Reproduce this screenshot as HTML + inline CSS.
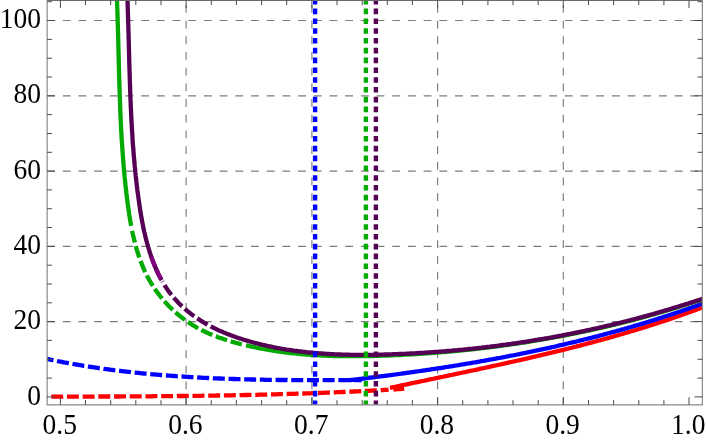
<!DOCTYPE html>
<html><head><meta charset="utf-8"><title>Plot</title>
<style>html,body{margin:0;padding:0;background:#fff;overflow:hidden}body{width:706px;height:443px;font-family:"Liberation Serif",serif}svg{display:block}</style></head>
<body>
<svg width="706" height="443" viewBox="0 0 706 443">
<rect width="706" height="443" fill="#fff"/>
<g stroke="#7c7c7c" stroke-width="1.15" stroke-dasharray="7.8 7.89" fill="none">
<path d="M47.1,321.6 H702.4"/>
<path d="M47.1,246.4 H702.4"/>
<path d="M47.1,171.1 H702.4"/>
<path d="M47.1,95.8 H702.4"/>
<path d="M47.1,20.5 H702.4"/>
<path d="M186.1,405.0 V0.4"/>
<path d="M311.9,405.0 V0.4"/>
<path d="M437.6,405.0 V0.4"/>
<path d="M563.3,405.0 V0.4"/>
</g>
<clipPath id="c"><rect x="47.15" y="0.4" width="655.2" height="404.45000000000005"/></clipPath>
<g clip-path="url(#c)" fill="none" stroke-width="4.3" stroke-linejoin="round">
<path d="M45.0,396.7 L46.2,396.7 L47.4,396.7 L48.6,396.7 L49.8,396.7 L51.0,396.7 L52.2,396.7 L53.4,396.7 L54.6,396.7 L55.8,396.7 L57.0,396.7 L58.2,396.7 L59.4,396.7 L60.6,396.7 L61.8,396.7 L63.0,396.7 L64.2,396.6 L65.4,396.6 L66.6,396.6 L67.8,396.6 L69.0,396.6 L70.2,396.6 L71.4,396.6 L72.6,396.6 L73.8,396.6 L75.0,396.6 L76.2,396.6 L77.4,396.6 L78.6,396.6 L79.8,396.6 L81.1,396.6 L82.3,396.6 L83.5,396.6 L84.7,396.6 L85.9,396.6 L87.1,396.6 L88.3,396.6 L89.5,396.6 L90.7,396.6 L91.9,396.6 L93.1,396.6 L94.3,396.6 L95.5,396.6 L96.7,396.5 L97.9,396.5 L99.1,396.5 L100.3,396.5 L101.5,396.5 L102.7,396.5 L103.9,396.5 L105.1,396.5 L106.3,396.5 L107.5,396.5 L108.7,396.5 L109.9,396.5 L111.1,396.5 L112.3,396.5 L113.5,396.5 L114.7,396.5 L115.9,396.5 L117.1,396.5 L118.3,396.5 L119.5,396.5 L120.7,396.4 L121.9,396.4 L123.1,396.4 L124.3,396.4 L125.5,396.4 L126.7,396.4 L127.9,396.4 L129.1,396.4 L130.3,396.4 L131.5,396.4 L132.7,396.4 L133.9,396.4 L135.1,396.4 L136.3,396.4 L137.5,396.4 L138.7,396.3 L139.9,396.3 L141.1,396.3 L142.3,396.3 L143.5,396.3 L144.7,396.3 L146.0,396.3 L147.2,396.3 L148.4,396.3 L149.6,396.3 L150.8,396.3 L152.0,396.3 L153.2,396.2 L154.4,396.2 L155.6,396.2 L156.8,396.2 L158.0,396.2 L159.2,396.2 L160.4,396.2 L161.6,396.2 L162.8,396.2 L164.0,396.2 L165.2,396.2 L166.4,396.1 L167.6,396.1 L168.8,396.1 L170.0,396.1 L171.2,396.1 L172.4,396.1 L173.6,396.1 L174.8,396.1 L176.0,396.1 L177.2,396.0 L178.4,396.0 L179.6,396.0 L180.8,396.0 L182.0,396.0 L183.2,396.0 L184.4,396.0 L185.6,395.9 L186.8,395.9 L188.0,395.9 L189.2,395.9 L190.4,395.9 L191.6,395.9 L192.8,395.9 L194.0,395.9 L195.2,395.8 L196.4,395.8 L197.6,395.8 L198.8,395.8 L200.0,395.8 L201.2,395.8 L202.4,395.7 L203.6,395.7 L204.8,395.7 L206.0,395.7 L207.2,395.7 L208.4,395.7 L209.6,395.6 L210.8,395.6 L212.1,395.6 L213.3,395.6 L214.5,395.6 L215.7,395.6 L216.9,395.5 L218.1,395.5 L219.3,395.5 L220.5,395.5 L221.7,395.5 L222.9,395.4 L224.1,395.4 L225.3,395.4 L226.5,395.4 L227.7,395.4 L228.9,395.3 L230.1,395.3 L231.3,395.3 L232.5,395.3 L233.7,395.2 L234.9,395.2 L236.1,395.2 L237.3,395.2 L238.5,395.2 L239.7,395.1 L240.9,395.1 L242.1,395.1 L243.3,395.1 L244.5,395.0 L245.7,395.0 L246.9,395.0 L248.1,395.0 L249.3,394.9 L250.5,394.9 L251.7,394.9 L252.9,394.9 L254.1,394.8 L255.3,394.8 L256.5,394.8 L257.7,394.8 L258.9,394.7 L260.1,394.7 L261.3,394.7 L262.5,394.6 L263.7,394.6 L264.9,394.6 L266.1,394.6 L267.3,394.5 L268.5,394.5 L269.7,394.5 L270.9,394.4 L272.1,394.4 L273.3,394.4 L274.5,394.3 L275.7,394.3 L276.9,394.3 L278.1,394.2 L279.3,394.2 L280.5,394.2 L281.7,394.1 L282.9,394.1 L284.1,394.1 L285.3,394.0 L286.5,394.0 L287.7,394.0 L288.9,393.9 L290.1,393.9 L291.3,393.9 L292.6,393.8 L293.8,393.8 L295.0,393.8 L296.2,393.7 L297.4,393.7 L298.6,393.6 L299.8,393.6 L301.0,393.6 L302.2,393.5 L303.4,393.5 L304.6,393.5 L305.8,393.4 L307.0,393.4 L308.2,393.3 L309.4,393.3 L310.6,393.3 L311.8,393.2 L313.0,393.2 L314.2,393.1 L315.4,393.1 L316.6,393.0 L317.8,393.0 L319.0,393.0 L320.2,392.9 L321.4,392.9 L322.6,392.8 L323.8,392.8 L325.0,392.7 L326.2,392.7 L327.4,392.6 L328.6,392.6 L329.8,392.5 L331.0,392.5 L332.2,392.4 L333.4,392.4 L334.6,392.3 L335.8,392.3 L337.0,392.2 L338.2,392.2 L339.4,392.1 L340.6,392.1 L341.8,392.0 L343.0,392.0 L344.2,391.9 L345.4,391.9 L346.6,391.8 L347.8,391.8 L349.0,391.7 L350.2,391.7 L351.4,391.6 L352.6,391.6 L353.8,391.5 L355.0,391.5 L356.2,391.4 L357.4,391.3 L358.6,391.3 L359.8,391.2 L361.0,391.2 L362.2,391.1 L363.4,391.1 L364.6,391.0 L365.8,390.9 L367.0,390.9 L368.2,390.8 L369.4,390.8 L370.6,390.7 L371.8,390.6 L373.0,390.6 L374.2,390.5 L375.4,390.4 L376.6,390.4 L377.8,390.3 L379.0,390.3 L380.2,390.2 L381.4,390.1 L382.6,390.1 L383.8,390.0 L385.0,389.9 L386.2,389.9 L387.4,389.8 L388.6,389.7" stroke="#ff0000" stroke-dasharray="11.95 3.75" stroke-dashoffset="9.45"/>
<path d="M393.4,389.4 L394.6,389.4 L395.8,389.3 L397.0,389.2 L398.2,389.2 L399.4,389.1 L400.6,389.0 L401.8,388.9 L403.0,388.9 L404.2,388.8" stroke="#ff0000"/>
<path d="M390.0,387.9 L391.1,387.7 L392.1,387.4 L393.2,387.2 L394.2,387.0 L395.3,386.8 L396.3,386.5 L397.4,386.3 L398.4,386.1 L399.5,385.9 L400.6,385.6 L401.6,385.4 L402.7,385.2 L403.7,385.0 L404.8,384.8 L405.8,384.5 L406.9,384.3 L408.0,384.1 L409.0,383.9 L410.1,383.6 L411.1,383.4 L412.2,383.2 L413.2,383.0 L414.3,382.7 L415.3,382.5 L416.4,382.3 L417.5,382.1 L418.5,381.9 L419.6,381.6 L420.6,381.4 L421.7,381.2 L422.7,381.0 L423.8,380.8 L424.9,380.5 L425.9,380.3 L427.0,380.1 L428.0,379.9 L429.1,379.6 L430.1,379.4 L431.2,379.2 L432.3,379.0 L433.3,378.8 L434.4,378.5 L435.4,378.3 L436.5,378.1 L437.5,377.9 L438.6,377.6 L439.7,377.4 L440.7,377.2 L441.8,377.0 L442.8,376.8 L443.9,376.5 L444.9,376.3 L446.0,376.1 L447.1,375.9 L448.1,375.6 L449.2,375.4 L450.2,375.2 L451.3,375.0 L452.3,374.8 L453.4,374.5 L454.5,374.3 L455.5,374.1 L456.6,373.9 L457.6,373.6 L458.7,373.4 L459.7,373.2 L460.8,373.0 L461.9,372.7 L462.9,372.5 L464.0,372.3 L465.0,372.1 L466.1,371.8 L467.1,371.6 L468.2,371.4 L469.3,371.2 L470.3,370.9 L471.4,370.7 L472.4,370.5 L473.5,370.3 L474.5,370.0 L475.6,369.8 L476.6,369.6 L477.7,369.4 L478.8,369.1 L479.8,368.9 L480.9,368.7 L481.9,368.5 L483.0,368.2 L484.0,368.0 L485.1,367.8 L486.2,367.5 L487.2,367.3 L488.3,367.1 L489.3,366.9 L490.4,366.6 L491.4,366.4 L492.5,366.2 L493.5,365.9 L494.6,365.7 L495.7,365.5 L496.7,365.2 L497.8,365.0 L498.8,364.8 L499.9,364.5 L500.9,364.3 L502.0,364.1 L503.0,363.8 L504.1,363.6 L505.1,363.4 L506.2,363.1 L507.3,362.9 L508.3,362.7 L509.4,362.4 L510.4,362.2 L511.5,362.0 L512.5,361.7 L513.6,361.5 L514.6,361.3 L515.7,361.0 L516.7,360.8 L517.8,360.5 L518.8,360.3 L519.9,360.1 L521.0,359.8 L522.0,359.6 L523.1,359.3 L524.1,359.1 L525.2,358.9 L526.2,358.6 L527.3,358.4 L528.3,358.1 L529.4,357.9 L530.4,357.6 L531.5,357.4 L532.5,357.2 L533.6,356.9 L534.6,356.7 L535.7,356.4 L536.7,356.2 L537.8,355.9 L538.8,355.7 L539.9,355.4 L540.9,355.2 L542.0,354.9 L543.0,354.7 L544.1,354.4 L545.1,354.2 L546.2,353.9 L547.2,353.7 L548.3,353.4 L549.3,353.2 L550.4,352.9 L551.4,352.7 L552.5,352.4 L553.5,352.2 L554.6,351.9 L555.6,351.7 L556.7,351.4 L557.7,351.2 L558.8,350.9 L559.8,350.6 L560.9,350.4 L561.9,350.1 L563.0,349.9 L564.0,349.6 L565.1,349.3 L566.1,349.1 L567.2,348.8 L568.2,348.6 L569.3,348.3 L570.3,348.0 L571.4,347.8 L572.4,347.5 L573.5,347.2 L574.5,347.0 L575.5,346.7 L576.6,346.4 L577.6,346.2 L578.7,345.9 L579.7,345.6 L580.8,345.4 L581.8,345.1 L582.9,344.8 L583.9,344.5 L585.0,344.3 L586.0,344.0 L587.0,343.7 L588.1,343.4 L589.1,343.2 L590.2,342.9 L591.2,342.6 L592.3,342.3 L593.3,342.1 L594.3,341.8 L595.4,341.5 L596.4,341.2 L597.5,340.9 L598.5,340.7 L599.5,340.4 L600.6,340.1 L601.6,339.8 L602.7,339.5 L603.7,339.2 L604.8,338.9 L605.8,338.7 L606.8,338.4 L607.9,338.1 L608.9,337.8 L610.0,337.5 L611.0,337.2 L612.0,336.9 L613.1,336.6 L614.1,336.3 L615.1,336.0 L616.2,335.7 L617.2,335.4 L618.3,335.1 L619.3,334.8 L620.3,334.5 L621.4,334.2 L622.4,333.9 L623.4,333.6 L624.5,333.3 L625.5,333.0 L626.5,332.7 L627.6,332.4 L628.6,332.1 L629.7,331.8 L630.7,331.5 L631.7,331.2 L632.8,330.9 L633.8,330.6 L634.8,330.3 L635.9,329.9 L636.9,329.6 L637.9,329.3 L639.0,329.0 L640.0,328.7 L641.0,328.4 L642.1,328.0 L643.1,327.7 L644.1,327.4 L645.1,327.1 L646.2,326.8 L647.2,326.4 L648.2,326.1 L649.3,325.8 L650.3,325.5 L651.3,325.1 L652.4,324.8 L653.4,324.5 L654.4,324.1 L655.4,323.8 L656.5,323.5 L657.5,323.1 L658.5,322.8 L659.5,322.5 L660.6,322.1 L661.6,321.8 L662.6,321.5 L663.7,321.1 L664.7,320.8 L665.7,320.4 L666.7,320.1 L667.8,319.8 L668.8,319.4 L669.8,319.1 L670.8,318.7 L671.8,318.4 L672.9,318.0 L673.9,317.7 L674.9,317.3 L675.9,317.0 L677.0,316.6 L678.0,316.3 L679.0,315.9 L680.0,315.5 L681.0,315.2 L682.1,314.8 L683.1,314.5 L684.1,314.1 L685.1,313.7 L686.1,313.4 L687.2,313.0 L688.2,312.6 L689.2,312.3 L690.2,311.9 L691.2,311.5 L692.2,311.2 L693.3,310.8 L694.3,310.4 L695.3,310.1 L696.3,309.7 L697.3,309.3 L698.3,308.9 L699.4,308.5 L700.4,308.2 L701.4,307.8 L702.4,307.4" stroke="#ff0000"/>
<path d="M45.0,358.5 L46.0,358.7 L47.1,359.0 L48.1,359.2 L49.2,359.4 L50.2,359.6 L51.3,359.8 L52.3,360.0 L53.3,360.3 L54.4,360.5 L55.4,360.7 L56.5,360.9 L57.5,361.1 L58.6,361.3 L59.6,361.5 L60.7,361.7 L61.7,361.9 L62.7,362.1 L63.8,362.3 L64.8,362.5 L65.9,362.7 L66.9,362.9 L68.0,363.1 L69.0,363.3 L70.1,363.4 L71.1,363.6 L72.2,363.8 L73.2,364.0 L74.3,364.2 L75.3,364.4 L76.4,364.5 L77.4,364.7 L78.5,364.9 L79.5,365.1 L80.5,365.2 L81.6,365.4 L82.6,365.6 L83.7,365.8 L84.7,365.9 L85.8,366.1 L86.8,366.3 L87.9,366.4 L88.9,366.6 L90.0,366.8 L91.0,366.9 L92.1,367.1 L93.2,367.2 L94.2,367.4 L95.3,367.6 L96.3,367.7 L97.4,367.9 L98.4,368.0 L99.5,368.2 L100.5,368.3 L101.6,368.5 L102.6,368.6 L103.7,368.8 L104.7,368.9 L105.8,369.1 L106.8,369.2 L107.9,369.3 L108.9,369.5 L110.0,369.6 L111.0,369.8 L112.1,369.9 L113.2,370.0 L114.2,370.2 L115.3,370.3 L116.3,370.4 L117.4,370.6 L118.4,370.7 L119.5,370.8 L120.5,370.9 L121.6,371.1 L122.6,371.2 L123.7,371.3 L124.8,371.4 L125.8,371.6 L126.9,371.7 L127.9,371.8 L129.0,371.9 L130.0,372.0 L131.1,372.2 L132.1,372.3 L133.2,372.4 L134.3,372.5 L135.3,372.6 L136.4,372.7 L137.4,372.8 L138.5,372.9 L139.5,373.0 L140.6,373.2 L141.7,373.3 L142.7,373.4 L143.8,373.5 L144.8,373.6 L145.9,373.7 L147.0,373.8 L148.0,373.9 L149.1,374.0 L150.1,374.1 L151.2,374.2 L152.2,374.3 L153.3,374.4 L154.4,374.4 L155.4,374.5 L156.5,374.6 L157.5,374.7 L158.6,374.8 L159.7,374.9 L160.7,375.0 L161.8,375.1 L162.8,375.2 L163.9,375.2 L165.0,375.3 L166.0,375.4 L167.1,375.5 L168.1,375.6 L169.2,375.6 L170.3,375.7 L171.3,375.8 L172.4,375.9 L173.4,376.0 L174.5,376.0 L175.6,376.1 L176.6,376.2 L177.7,376.3 L178.8,376.3 L179.8,376.4 L180.9,376.5 L181.9,376.5 L183.0,376.6 L184.1,376.7 L185.1,376.7 L186.2,376.8 L187.2,376.9 L188.3,376.9 L189.4,377.0 L190.4,377.1 L191.5,377.1 L192.6,377.2 L193.6,377.3 L194.7,377.3 L195.7,377.4 L196.8,377.4 L197.9,377.5 L198.9,377.5 L200.0,377.6 L201.1,377.7 L202.1,377.7 L203.2,377.8 L204.2,377.8 L205.3,377.9 L206.4,377.9 L207.4,378.0 L208.5,378.0 L209.6,378.1 L210.6,378.1 L211.7,378.2 L212.8,378.2 L213.8,378.3 L214.9,378.3 L215.9,378.3 L217.0,378.4 L218.1,378.4 L219.1,378.5 L220.2,378.5 L221.3,378.6 L222.3,378.6 L223.4,378.6 L224.5,378.7 L225.5,378.7 L226.6,378.8 L227.6,378.8 L228.7,378.8 L229.8,378.9 L230.8,378.9 L231.9,378.9 L233.0,379.0 L234.0,379.0 L235.1,379.0 L236.2,379.1 L237.2,379.1 L238.3,379.1 L239.4,379.2 L240.4,379.2 L241.5,379.2 L242.5,379.3 L243.6,379.3 L244.7,379.3 L245.7,379.3 L246.8,379.4 L247.9,379.4 L248.9,379.4 L250.0,379.4 L251.1,379.5 L252.1,379.5 L253.2,379.5 L254.3,379.5 L255.3,379.6 L256.4,379.6 L257.5,379.6 L258.5,379.6 L259.6,379.7 L260.6,379.7 L261.7,379.7 L262.8,379.7 L263.8,379.7 L264.9,379.8 L266.0,379.8 L267.0,379.8 L268.1,379.8 L269.2,379.8 L270.2,379.8 L271.3,379.9 L272.4,379.9 L273.4,379.9 L274.5,379.9 L275.6,379.9 L276.6,379.9 L277.7,379.9 L278.8,380.0 L279.8,380.0 L280.9,380.0 L281.9,380.0 L283.0,380.0 L284.1,380.0 L285.1,380.0 L286.2,380.0 L287.3,380.0 L288.3,380.1 L289.4,380.1 L290.5,380.1 L291.5,380.1 L292.6,380.1 L293.7,380.1 L294.7,380.1 L295.8,380.1 L296.9,380.1 L297.9,380.1 L299.0,380.1 L300.0,380.1 L301.1,380.2 L302.2,380.2 L303.2,380.2 L304.3,380.2 L305.4,380.2 L306.4,380.2 L307.5,380.2 L308.6,380.2 L309.6,380.2 L310.7,380.2 L311.8,380.2 L312.8,380.2 L313.9,380.2 L314.9,380.2 L316.0,380.2 L317.1,380.2 L318.1,380.2 L319.2,380.2 L320.3,380.2 L321.3,380.2 L322.4,380.2 L323.5,380.2 L324.5,380.2 L325.6,380.2 L326.6,380.2 L327.7,380.2 L328.8,380.2 L329.8,380.2 L330.9,380.2 L332.0,380.2 L333.0,380.2 L334.1,380.2 L335.1,380.2 L336.2,380.2 L337.3,380.2 L338.3,380.2 L339.4,380.2 L340.5,380.2 L341.5,380.2 L342.6,380.2 L343.6,380.2 L344.7,380.2 L345.8,380.2 L346.8,380.2 L347.9,380.2 L349.0,380.2 L350.0,380.2 L351.1,380.2 L352.1,380.2 L353.2,380.2 L354.3,380.2 L355.3,380.2 L356.4,380.2 L357.5,380.2 L358.5,380.2 L359.6,380.2 L360.6,380.2 L361.7,380.2" stroke="#0000ff" stroke-dasharray="12 3.7" stroke-dashoffset="3.39"/>
<path d="M349.5,380.2 L350.7,380.0 L351.9,379.9 L353.1,379.8 L354.3,379.6 L355.5,379.5 L356.7,379.3 L357.9,379.2 L359.1,379.1 L360.3,378.9 L361.5,378.8 L362.7,378.6 L363.9,378.5 L365.1,378.3 L366.3,378.2 L367.5,378.0 L368.7,377.9 L369.9,377.7 L371.1,377.6 L372.3,377.4 L373.5,377.3 L374.7,377.1 L375.9,377.0 L377.1,376.8 L378.3,376.7 L379.5,376.5 L380.7,376.4 L381.9,376.2 L383.1,376.1 L384.3,375.9 L385.5,375.8 L386.7,375.6 L387.9,375.4 L389.1,375.3 L390.3,375.1 L391.5,375.0 L392.7,374.8 L393.9,374.7 L395.1,374.5 L396.3,374.3 L397.5,374.2 L398.7,374.0 L399.9,373.8 L401.1,373.7 L402.3,373.5 L403.5,373.4 L404.7,373.2 L405.9,373.0 L407.1,372.9 L408.3,372.7 L409.5,372.5 L410.7,372.4 L411.9,372.2 L413.1,372.0 L414.3,371.9 L415.5,371.7 L416.7,371.5 L417.9,371.3 L419.1,371.2 L420.3,371.0 L421.5,370.8 L422.7,370.6 L423.9,370.5 L425.1,370.3 L426.3,370.1 L427.5,369.9 L428.7,369.8 L429.9,369.6 L431.1,369.4 L432.3,369.2 L433.5,369.0 L434.7,368.9 L435.9,368.7 L437.1,368.5 L438.3,368.3 L439.5,368.1 L440.7,368.0 L441.9,367.8 L443.1,367.6 L444.3,367.4 L445.5,367.2 L446.7,367.0 L447.9,366.8 L449.1,366.6 L450.3,366.4 L451.4,366.3 L452.6,366.1 L453.8,365.9 L455.0,365.7 L456.2,365.5 L457.4,365.3 L458.6,365.1 L459.8,364.9 L461.0,364.7 L462.2,364.5 L463.4,364.3 L464.6,364.1 L465.8,363.9 L467.0,363.7 L468.2,363.5 L469.4,363.3 L470.6,363.1 L471.8,362.9 L472.9,362.7 L474.1,362.5 L475.3,362.3 L476.5,362.1 L477.7,361.9 L478.9,361.7 L480.1,361.5 L481.3,361.2 L482.5,361.0 L483.7,360.8 L484.9,360.6 L486.1,360.4 L487.3,360.2 L488.4,360.0 L489.6,359.7 L490.8,359.5 L492.0,359.3 L493.2,359.1 L494.4,358.9 L495.6,358.7 L496.8,358.4 L498.0,358.2 L499.2,358.0 L500.3,357.8 L501.5,357.5 L502.7,357.3 L503.9,357.1 L505.1,356.9 L506.3,356.6 L507.5,356.4 L508.7,356.2 L509.9,355.9 L511.0,355.7 L512.2,355.5 L513.4,355.3 L514.6,355.0 L515.8,354.8 L517.0,354.5 L518.2,354.3 L519.4,354.1 L520.5,353.8 L521.7,353.6 L522.9,353.4 L524.1,353.1 L525.3,352.9 L526.5,352.6 L527.7,352.4 L528.8,352.1 L530.0,351.9 L531.2,351.7 L532.4,351.4 L533.6,351.2 L534.8,350.9 L535.9,350.7 L537.1,350.4 L538.3,350.2 L539.5,349.9 L540.7,349.6 L541.9,349.4 L543.0,349.1 L544.2,348.9 L545.4,348.6 L546.6,348.4 L547.8,348.1 L549.0,347.8 L550.1,347.6 L551.3,347.3 L552.5,347.0 L553.7,346.8 L554.9,346.5 L556.0,346.3 L557.2,346.0 L558.4,345.7 L559.6,345.4 L560.8,345.2 L561.9,344.9 L563.1,344.6 L564.3,344.4 L565.5,344.1 L566.6,343.8 L567.8,343.5 L569.0,343.2 L570.2,343.0 L571.4,342.7 L572.5,342.4 L573.7,342.1 L574.9,341.8 L576.1,341.6 L577.2,341.3 L578.4,341.0 L579.6,340.7 L580.8,340.4 L581.9,340.1 L583.1,339.8 L584.3,339.5 L585.5,339.2 L586.6,339.0 L587.8,338.7 L589.0,338.4 L590.1,338.1 L591.3,337.8 L592.5,337.5 L593.7,337.2 L594.8,336.9 L596.0,336.6 L597.2,336.3 L598.3,336.0 L599.5,335.6 L600.7,335.3 L601.9,335.0 L603.0,334.7 L604.2,334.4 L605.4,334.1 L606.5,333.8 L607.7,333.5 L608.9,333.2 L610.0,332.8 L611.2,332.5 L612.4,332.2 L613.5,331.9 L614.7,331.6 L615.9,331.2 L617.0,330.9 L618.2,330.6 L619.4,330.3 L620.5,329.9 L621.7,329.6 L622.9,329.3 L624.0,329.0 L625.2,328.6 L626.4,328.3 L627.5,328.0 L628.7,327.6 L629.8,327.3 L631.0,327.0 L632.2,326.6 L633.3,326.3 L634.5,325.9 L635.7,325.6 L636.8,325.3 L638.0,324.9 L639.1,324.6 L640.3,324.2 L641.5,323.9 L642.6,323.5 L643.8,323.2 L644.9,322.8 L646.1,322.5 L647.2,322.1 L648.4,321.8 L649.6,321.4 L650.7,321.0 L651.9,320.7 L653.0,320.3 L654.2,320.0 L655.3,319.6 L656.5,319.2 L657.6,318.9 L658.8,318.5 L660.0,318.1 L661.1,317.8 L662.3,317.4 L663.4,317.0 L664.6,316.6 L665.7,316.3 L666.9,315.9 L668.0,315.5 L669.2,315.1 L670.3,314.8 L671.5,314.4 L672.6,314.0 L673.8,313.6 L674.9,313.2 L676.1,312.8 L677.2,312.5 L678.4,312.1 L679.5,311.7 L680.7,311.3 L681.8,310.9 L683.0,310.5 L684.1,310.1 L685.3,309.7 L686.4,309.3 L687.5,308.9 L688.7,308.5 L689.8,308.1 L691.0,307.7 L692.1,307.3 L693.3,306.9 L694.4,306.5 L695.6,306.1 L696.7,305.7 L697.8,305.3 L699.0,304.8 L700.1,304.4 L701.3,304.0 L702.4,303.6" stroke="#0000ff"/>
<path d="M117.0,0.5 L117.1,2.0 L117.1,3.4 L117.2,4.9 L117.2,6.4 L117.3,7.8 L117.3,9.3 L117.4,10.8 L117.4,12.2 L117.5,13.7 L117.5,15.1 L117.6,16.6 L117.6,18.1 L117.6,19.5 L117.7,21.0 L117.7,22.4 L117.8,23.9 L117.8,25.3 L117.9,26.8 L117.9,28.2 L117.9,29.7 L118.0,31.2 L118.0,32.6 L118.1,34.1 L118.1,35.5 L118.1,37.0 L118.2,38.4 L118.2,39.9 L118.3,41.3 L118.3,42.7 L118.3,44.2 L118.4,45.6 L118.4,47.1 L118.4,48.5 L118.5,50.0 L118.5,51.4 L118.6,52.9 L118.6,54.3 L118.6,55.8 L118.7,57.2 L118.7,58.6 L118.7,60.1 L118.8,61.5 L118.8,63.0 L118.8,64.4 L118.9,65.8 L118.9,67.3 L119.0,68.7 L119.0,70.2 L119.0,71.6 L119.1,73.0 L119.1,74.5 L119.1,75.9 L119.2,77.3 L119.2,78.8 L119.3,80.2 L119.3,81.7 L119.3,83.1 L119.4,84.5 L119.4,86.0 L119.5,87.4 L119.5,88.8 L119.6,90.3 L119.6,91.7 L119.7,93.1 L119.7,94.6 L119.8,96.0 L119.8,97.4 L119.9,98.9 L119.9,100.3 L120.0,101.7 L120.0,103.2 L120.1,104.6 L120.1,106.1 L120.2,107.5 L120.2,108.9 L120.3,110.4 L120.3,111.8 L120.4,113.2 L120.5,114.7 L120.5,116.1 L120.6,117.5 L120.7,119.0 L120.7,120.4 L120.8,121.8 L120.9,123.3 L120.9,124.7 L121.0,126.1 L121.1,127.6 L121.1,129.0 L121.2,130.4 L121.3,131.9 L121.4,133.3 L121.5,134.7 L121.5,136.2 L121.6,137.6 L121.7,139.1 L121.8,140.5 L121.9,141.9 L122.0,143.4 L122.1,144.8 L122.2,146.2 L122.3,147.7 L122.4,149.1 L122.5,150.6 L122.6,152.0 L122.7,153.4 L122.8,154.9 L122.9,156.3 L123.0,157.7 L123.1,159.2 L123.2,160.6 L123.3,162.1 L123.5,163.5 L123.6,165.0 L123.7,166.4 L123.8,167.8 L123.9,169.3 L124.1,170.7 L124.2,172.2 L124.3,173.6 L124.5,175.1 L124.6,176.5 L124.8,178.0 L124.9,179.4 L125.1,180.9 L125.2,182.3 L125.4,183.8 L125.5,185.2 L125.7,186.7 L125.8,188.1 L126.0,189.6 L126.2,191.0 L126.3,192.5 L126.5,193.9 L126.7,195.4 L126.8,196.8 L127.0,198.3 L127.2,199.7 L127.4,201.2 L127.6,202.7 L127.8,204.1 L128.0,205.6 L128.2,207.0 L128.4,208.5 L128.6,209.9 L128.8,211.4 L129.0,212.9 L129.2,214.3 L129.5,215.8 L129.7,217.2 L129.9,218.7 L130.2,220.1 L130.4,221.6 L130.7,223.0 L130.9,224.5 L131.2,225.9" stroke="#00aa00"/>
<path d="M131.5,227.4 L131.8,228.8 L132.0,230.3 L132.3,231.7 L132.6,233.1 L132.9,234.6 L133.3,236.0 L133.6,237.4 L133.9,238.8 L134.3,240.3 L134.6,241.7 L135.0,243.1 L135.4,244.5 L135.7,245.9 L136.1,247.3 L136.5,248.7 L136.9,250.1 L137.4,251.5 L137.8,252.9 L138.2,254.2 L138.7,255.6 L139.1,257.0 L139.6,258.3 L140.1,259.7 L140.6,261.1 L141.1,262.4 L141.6,263.7 L142.2,265.1 L142.7,266.4 L143.3,267.7 L143.8,269.0 L144.4,270.3 L145.0,271.6 L145.6,272.9 L146.3,274.2 L146.9,275.5 L147.5,276.8 L148.2,278.0 L148.9,279.3 L149.6,280.5 L150.3,281.8 L151.0,283.0 L151.8,284.2 L152.5,285.4 L153.3,286.6 L154.1,287.8 L154.9,289.0 L155.7,290.2 L156.5,291.4 L157.4,292.5 L158.2,293.7 L159.1,294.8 L160.0,296.0 L160.9,297.1 L161.8,298.2 L162.7,299.3 L163.6,300.4 L164.6,301.5 L165.6,302.5 L166.5,303.6 L167.5,304.6 L168.5,305.7 L169.5,306.7 L170.5,307.7 L171.6,308.7 L172.6,309.7 L173.7,310.7 L174.7,311.7 L175.8,312.6 L176.9,313.5 L178.0,314.5 L179.1,315.4 L180.2,316.3 L181.4,317.2 L182.5,318.1 L183.7,318.9 L184.8,319.8 L186.0,320.6 L187.2,321.5 L188.4,322.3 L189.6,323.1 L190.8,323.9 L192.0,324.6 L193.2,325.4 L194.4,326.1 L195.7,326.9 L196.9,327.6 L198.2,328.3 L199.5,329.0 L200.8,329.6 L202.0,330.3 L203.3,330.9 L204.6,331.6 L206.0,332.2 L207.3,332.8 L208.6,333.4 L209.9,333.9 L211.3,334.5 L212.6,335.1 L213.9,335.6 L215.3,336.1 L216.7,336.6 L218.0,337.2 L219.4,337.7 L220.8,338.1 L222.1,338.6 L223.5,339.1 L224.9,339.5 L226.3,340.0 L227.7,340.4 L229.1,340.8 L230.5,341.3 L231.9,341.7 L233.3,342.1 L234.7,342.5 L236.1,342.9 L237.5,343.2 L238.9,343.6 L240.3,344.0 L241.8,344.3" stroke="#00aa00" stroke-dasharray="12 3.7" stroke-dashoffset="-3.5"/>
<path d="M246.0,345.4 L247.4,345.7 L248.9,346.0 L250.3,346.3 L251.7,346.6 L253.1,346.9 L254.6,347.2 L256.0,347.5 L257.4,347.8 L258.8,348.1 L260.3,348.4 L261.7,348.7 L263.1,348.9 L264.5,349.2 L266.0,349.4 L267.4,349.7 L268.8,349.9 L270.2,350.2 L271.7,350.4 L273.1,350.6 L274.5,350.9 L276.0,351.1 L277.4,351.3 L278.8,351.5 L280.3,351.7 L281.7,351.9 L283.1,352.1 L284.6,352.3 L286.0,352.5 L287.4,352.6 L288.9,352.8 L290.3,353.0 L291.7,353.1 L293.2,353.3 L294.6,353.4 L296.1,353.6 L297.5,353.7 L298.9,353.9 L300.4,354.0 L301.8,354.1 L303.2,354.3 L304.7,354.4 L306.1,354.5 L307.6,354.6 L309.0,354.7 L310.5,354.8 L311.9,354.9 L313.3,355.0 L314.8,355.1 L316.2,355.2 L317.7,355.3 L319.1,355.4 L320.5,355.4 L322.0,355.5 L323.4,355.6 L324.9,355.7 L326.3,355.7 L327.8,355.8 L329.2,355.8 L330.7,355.9 L332.1,355.9 L333.5,356.0 L335.0,356.0 L336.4,356.0 L337.9,356.1 L339.3,356.1 L340.8,356.1 L342.2,356.2 L343.7,356.2 L345.1,356.2 L346.6,356.2 L348.0,356.2 L349.4,356.2 L350.9,356.2 L352.3,356.2 L353.8,356.2 L355.2,356.2 L356.7,356.2 L358.1,356.2 L359.6,356.2 L361.0,356.2 L362.5,356.2 L363.9,356.2 L365.4,356.1 L366.8,356.1 L368.3,356.1 L369.7,356.1 L371.2,356.0 L372.6,356.0 L374.1,356.0 L375.5,355.9 L376.9,355.9 L378.4,355.8 L379.8,355.8 L381.3,355.7 L382.7,355.7 L384.2,355.6 L385.6,355.6 L387.1,355.5 L388.5,355.5 L390.0,355.4 L391.4,355.4 L392.9,355.3 L394.3,355.2 L395.8,355.2 L397.2,355.1 L398.7,355.0 L400.1,355.0 L401.6,354.9 L403.0,354.8 L404.4,354.7 L405.9,354.7 L407.3,354.6 L408.8,354.5 L410.2,354.4 L411.7,354.3 L413.1,354.3 L414.6,354.2 L416.0,354.1 L417.5,354.0 L418.9,353.9 L420.4,353.8 L421.8,353.7 L423.2,353.6 L424.7,353.5 L426.1,353.4 L427.6,353.3 L429.0,353.2 L430.5,353.1 L431.9,353.0 L433.4,352.9 L434.8,352.8 L436.2,352.7 L437.7,352.6 L439.1,352.4 L440.6,352.3 L442.0,352.2 L443.5,352.1 L444.9,352.0 L446.3,351.8 L447.8,351.7 L449.2,351.6 L450.7,351.5 L452.1,351.3 L453.6,351.2 L455.0,351.1 L456.4,350.9 L457.9,350.8 L459.3,350.6 L460.8,350.5 L462.2,350.4 L463.6,350.2 L465.1,350.1 L466.5,349.9 L468.0,349.8 L469.4,349.6 L470.8,349.5 L472.3,349.3 L473.7,349.1 L475.2,349.0 L476.6,348.8 L478.0,348.7 L479.5,348.5 L480.9,348.3 L482.3,348.2 L483.8,348.0 L485.2,347.8 L486.7,347.6 L488.1,347.5 L489.5,347.3 L491.0,347.1 L492.4,346.9 L493.8,346.8 L495.3,346.6 L496.7,346.4 L498.1,346.2 L499.6,346.0 L501.0,345.8 L502.4,345.6 L503.9,345.4 L505.3,345.2 L506.8,345.0 L508.2,344.8 L509.6,344.6 L511.0,344.4 L512.5,344.2 L513.9,344.0 L515.3,343.8 L516.8,343.6 L518.2,343.4 L519.6,343.2 L521.1,342.9 L522.5,342.7 L523.9,342.5 L525.4,342.3 L526.8,342.1 L528.2,341.8 L529.6,341.6 L531.1,341.4 L532.5,341.2 L533.9,340.9 L535.4,340.7 L536.8,340.4 L538.2,340.2 L539.6,340.0 L541.1,339.7 L542.5,339.5 L543.9,339.2 L545.3,339.0 L546.8,338.7 L548.2,338.5 L549.6,338.2 L551.0,338.0 L552.5,337.7 L553.9,337.5 L555.3,337.2 L556.7,336.9 L558.2,336.7 L559.6,336.4 L561.0,336.1 L562.4,335.9 L563.8,335.6 L565.3,335.3 L566.7,335.1 L568.1,334.8 L569.5,334.5 L570.9,334.2 L572.4,333.9 L573.8,333.6 L575.2,333.4 L576.6,333.1 L578.0,332.8 L579.5,332.5 L580.9,332.2 L582.3,331.9 L583.7,331.6 L585.1,331.3 L586.5,331.0 L587.9,330.7 L589.4,330.4 L590.8,330.1 L592.2,329.8 L593.6,329.5 L595.0,329.2 L596.4,328.8 L597.8,328.5 L599.3,328.2 L600.7,327.9 L602.1,327.6 L603.5,327.2 L604.9,326.9 L606.3,326.6 L607.7,326.2 L609.1,325.9 L610.5,325.6 L611.9,325.2 L613.3,324.9 L614.8,324.6 L616.2,324.2 L617.6,323.9 L619.0,323.5 L620.4,323.2 L621.8,322.8 L623.2,322.5 L624.6,322.1 L626.0,321.8 L627.4,321.4 L628.8,321.1 L630.2,320.7 L631.6,320.3 L633.0,320.0 L634.4,319.6 L635.8,319.2 L637.2,318.9 L638.6,318.5 L640.0,318.1 L641.4,317.7 L642.8,317.4 L644.2,317.0 L645.6,316.6 L647.0,316.2 L648.4,315.8 L649.8,315.4 L651.2,315.0 L652.6,314.7 L654.0,314.3 L655.3,313.9 L656.7,313.5 L658.1,313.1 L659.5,312.7 L660.9,312.3 L662.3,311.9 L663.7,311.4 L665.1,311.0 L666.5,310.6 L667.9,310.2 L669.3,309.8 L670.6,309.4 L672.0,309.0 L673.4,308.5 L674.8,308.1 L676.2,307.7 L677.6,307.3 L679.0,306.8 L680.3,306.4 L681.7,306.0 L683.1,305.5 L684.5,305.1 L685.9,304.6 L687.2,304.2 L688.6,303.8 L690.0,303.3 L691.4,302.9 L692.8,302.4 L694.1,302.0 L695.5,301.5 L696.9,301.0 L698.3,300.6 L699.7,300.1 L701.0,299.7 L702.4,299.2" stroke="#00aa00"/>
<path d="M127.5,0.5 L127.6,1.9 L127.6,3.4 L127.7,4.8 L127.7,6.2 L127.8,7.6 L127.8,9.1 L127.8,10.5 L127.9,11.9 L127.9,13.3 L128.0,14.8 L128.0,16.2 L128.1,17.6 L128.1,19.1 L128.2,20.5 L128.2,21.9 L128.2,23.3 L128.3,24.8 L128.3,26.2 L128.4,27.6 L128.4,29.0 L128.4,30.5 L128.5,31.9 L128.5,33.3 L128.6,34.7 L128.6,36.2 L128.6,37.6 L128.7,39.0 L128.7,40.4 L128.8,41.9 L128.8,43.3 L128.8,44.7 L128.9,46.1 L128.9,47.6 L128.9,49.0 L129.0,50.4 L129.0,51.8 L129.1,53.3 L129.1,54.7 L129.1,56.1 L129.2,57.5 L129.2,59.0 L129.2,60.4 L129.3,61.8 L129.3,63.2 L129.4,64.7 L129.4,66.1 L129.4,67.5 L129.5,68.9 L129.5,70.4 L129.6,71.8 L129.6,73.2 L129.7,74.6 L129.7,76.1 L129.7,77.5 L129.8,78.9 L129.8,80.3 L129.9,81.8 L129.9,83.2 L130.0,84.6 L130.0,86.0 L130.1,87.4 L130.1,88.9 L130.2,90.3 L130.2,91.7 L130.3,93.1 L130.3,94.6 L130.4,96.0 L130.4,97.4 L130.5,98.8 L130.5,100.2 L130.6,101.7 L130.7,103.1 L130.7,104.5 L130.8,105.9 L130.8,107.4 L130.9,108.8 L131.0,110.2 L131.0,111.6 L131.1,113.0 L131.2,114.5 L131.2,115.9 L131.3,117.3 L131.4,118.7 L131.4,120.2 L131.5,121.6 L131.6,123.0 L131.7,124.4 L131.8,125.8 L131.8,127.3 L131.9,128.7 L132.0,130.1 L132.1,131.5 L132.2,132.9 L132.3,134.4 L132.4,135.8 L132.5,137.2 L132.5,138.6 L132.6,140.0 L132.7,141.5 L132.8,142.9 L132.9,144.3 L133.0,145.7 L133.1,147.1 L133.3,148.6 L133.4,150.0 L133.5,151.4 L133.6,152.8 L133.7,154.2 L133.8,155.7 L133.9,157.1 L134.1,158.5 L134.2,159.9 L134.3,161.3 L134.4,162.8 L134.6,164.2 L134.7,165.6 L134.8,167.0 L135.0,168.4 L135.1,169.8 L135.3,171.3 L135.4,172.7 L135.6,174.1 L135.7,175.5 L135.9,176.9 L136.0,178.4 L136.2,179.8 L136.3,181.2 L136.5,182.6 L136.7,184.0 L136.8,185.5 L137.0,186.9 L137.2,188.3 L137.3,189.7 L137.5,191.1 L137.7,192.5 L137.9,194.0 L138.1,195.4 L138.3,196.8 L138.5,198.2 L138.7,199.6 L138.9,201.0 L139.1,202.5 L139.3,203.9 L139.5,205.3 L139.7,206.7 L139.9,208.1 L140.1,209.5 L140.3,211.0 L140.6,212.4 L140.8,213.8 L141.0,215.2 L141.3,216.6 L141.5,218.0 L141.8,219.4 L142.0,220.8 L142.3,222.2 L142.6,223.7 L142.9,225.1 L143.1,226.5 L143.4,227.9 L143.7,229.3 L144.0,230.7 L144.3,232.0 L144.7,233.4 L145.0,234.8 L145.3,236.2 L145.6,237.6 L146.0,239.0 L146.3,240.4 L146.7,241.7 L147.1,243.1 L147.5,244.5 L147.8,245.9 L148.2,247.2 L148.7,248.6 L149.1,250.0 L149.5,251.3 L149.9,252.7 L150.4,254.0 L150.8,255.4 L151.3,256.7 L151.8,258.1 L152.2,259.4 L152.7,260.7 L153.2,262.1 L153.8,263.4 L154.3,264.7 L154.8,266.0 L155.4,267.3 L155.9,268.7 L156.5,270.0 L157.1,271.3 L157.7,272.5 L158.3,273.8 L158.9,275.1 L159.6,276.4 L160.2,277.6 L160.9,278.9 L161.6,280.1" stroke="#550055"/>
<path d="M151.3,256.7 L151.8,258.1 L152.2,259.4 L152.7,260.7 L153.2,262.1 L153.8,263.4 L154.3,264.7 L154.8,266.0 L155.4,267.3 L155.9,268.7 L156.5,270.0 L157.1,271.3 L157.7,272.5 L158.3,273.8 L158.9,275.1 L159.6,276.4 L160.2,277.6 L160.9,278.9 L161.6,280.1" stroke="#800080" stroke-dasharray="10.5 3"/>
<path d="M162.3,281.4 L163.0,282.6 L163.7,283.8 L164.5,285.0 L165.2,286.2 L166.0,287.4 L166.8,288.6 L167.6,289.8 L168.4,290.9 L169.3,292.1 L170.1,293.2 L171.0,294.3 L171.9,295.4 L172.8,296.5 L173.7,297.6 L174.7,298.7 L175.6,299.8 L176.6,300.8 L177.5,301.8 L178.5,302.9 L179.5,303.9 L180.6,304.9 L181.6,305.9 L182.6,306.8 L183.7,307.8 L184.8,308.7 L185.8,309.7 L186.9,310.6 L188.0,311.5 L189.1,312.4 L190.3,313.3 L191.4,314.2 L192.5,315.0 L193.7,315.9 L194.8,316.7 L196.0,317.5 L197.2,318.3 L198.4,319.1 L199.6,319.9 L200.8,320.7 L202.0,321.4 L203.2,322.2 L204.4,322.9 L205.7,323.6 L206.9,324.3 L208.1,325.0 L209.4,325.7" stroke="#550055" stroke-dasharray="12 3.7" stroke-dashoffset="-4.3"/>
<path d="M210.7,326.3 L211.9,327.0 L213.2,327.6 L214.5,328.3 L215.8,328.9 L217.0,329.5 L218.3,330.1 L219.6,330.7 L221.0,331.3 L222.3,331.8 L223.6,332.4 L224.9,332.9 L226.2,333.5 L227.6,334.0 L228.9,334.5 L230.2,335.0 L231.6,335.5 L232.9,336.0 L234.3,336.5 L235.6,337.0 L237.0,337.5 L238.3,337.9 L239.7,338.4 L241.0,338.8 L242.4,339.2 L243.8,339.7 L245.1,340.1 L246.5,340.5 L247.9,340.9 L249.2,341.3 L250.6,341.7 L252.0,342.1 L253.4,342.5 L254.8,342.8 L256.1,343.2 L257.5,343.5 L258.9,343.9 L260.3,344.2 L261.7,344.6 L263.0,344.9 L264.4,345.2 L265.8,345.5 L267.2,345.9 L268.6,346.2 L270.0,346.5 L271.4,346.7 L272.8,347.0 L274.2,347.3 L275.5,347.6 L276.9,347.9 L278.3,348.1 L279.7,348.4 L281.1,348.6 L282.5,348.9 L283.9,349.1 L285.3,349.3 L286.7,349.6 L288.1,349.8 L289.5,350.0 L290.9,350.2 L292.3,350.4 L293.7,350.6 L295.2,350.8 L296.6,351.0 L298.0,351.2 L299.4,351.4 L300.8,351.5 L302.2,351.7 L303.6,351.9 L305.0,352.0 L306.4,352.2 L307.8,352.3 L309.3,352.5 L310.7,352.6 L312.1,352.7 L313.5,352.9 L314.9,353.0 L316.3,353.1 L317.8,353.2 L319.2,353.3 L320.6,353.4 L322.0,353.5 L323.4,353.6 L324.9,353.7 L326.3,353.8 L327.7,353.9 L329.1,354.0 L330.5,354.1 L332.0,354.1 L333.4,354.2 L334.8,354.3 L336.2,354.3 L337.7,354.4 L339.1,354.5 L340.5,354.5 L341.9,354.6 L343.4,354.6 L344.8,354.6 L346.2,354.7 L347.6,354.7 L349.1,354.7 L350.5,354.8 L351.9,354.8 L353.3,354.8 L354.8,354.8 L356.2,354.8 L357.6,354.8 L359.1,354.8 L360.5,354.9 L361.9,354.9 L363.3,354.9 L364.8,354.8 L366.2,354.8 L367.6,354.8 L369.1,354.8 L370.5,354.8 L371.9,354.8 L373.3,354.8 L374.8,354.7 L376.2,354.7 L377.6,354.7 L379.1,354.7 L380.5,354.6 L381.9,354.6 L383.3,354.6 L384.8,354.5 L386.2,354.5 L387.6,354.4 L389.1,354.4 L390.5,354.3 L391.9,354.3 L393.3,354.2 L394.8,354.2 L396.2,354.1 L397.6,354.1 L399.1,354.0 L400.5,354.0 L401.9,353.9 L403.3,353.8 L404.8,353.8 L406.2,353.7 L407.6,353.7 L409.0,353.6 L410.5,353.5 L411.9,353.4 L413.3,353.4 L414.8,353.3 L416.2,353.2 L417.6,353.1 L419.0,353.0 L420.5,353.0 L421.9,352.9 L423.3,352.8 L424.7,352.7 L426.2,352.6 L427.6,352.5 L429.0,352.4 L430.4,352.3 L431.8,352.2 L433.3,352.1 L434.7,352.0 L436.1,351.9 L437.5,351.8 L439.0,351.7 L440.4,351.6 L441.8,351.5 L443.2,351.4 L444.6,351.3 L446.1,351.1 L447.5,351.0 L448.9,350.9 L450.3,350.8 L451.8,350.7 L453.2,350.5 L454.6,350.4 L456.0,350.3 L457.4,350.2 L458.9,350.0 L460.3,349.9 L461.7,349.8 L463.1,349.6 L464.5,349.5 L465.9,349.3 L467.4,349.2 L468.8,349.0 L470.2,348.9 L471.6,348.8 L473.0,348.6 L474.5,348.5 L475.9,348.3 L477.3,348.1 L478.7,348.0 L480.1,347.8 L481.5,347.7 L482.9,347.5 L484.4,347.3 L485.8,347.2 L487.2,347.0 L488.6,346.8 L490.0,346.7 L491.4,346.5 L492.8,346.3 L494.3,346.1 L495.7,346.0 L497.1,345.8 L498.5,345.6 L499.9,345.4 L501.3,345.2 L502.7,345.0 L504.1,344.8 L505.6,344.7 L507.0,344.5 L508.4,344.3 L509.8,344.1 L511.2,343.9 L512.6,343.7 L514.0,343.5 L515.4,343.3 L516.8,343.1 L518.2,342.8 L519.7,342.6 L521.1,342.4 L522.5,342.2 L523.9,342.0 L525.3,341.8 L526.7,341.6 L528.1,341.3 L529.5,341.1 L530.9,340.9 L532.3,340.7 L533.7,340.4 L535.1,340.2 L536.5,340.0 L537.9,339.7 L539.3,339.5 L540.7,339.3 L542.1,339.0 L543.5,338.8 L545.0,338.5 L546.4,338.3 L547.8,338.1 L549.2,337.8 L550.6,337.6 L552.0,337.3 L553.4,337.0 L554.8,336.8 L556.2,336.5 L557.6,336.3 L559.0,336.0 L560.4,335.8 L561.8,335.5 L563.2,335.2 L564.6,335.0 L566.0,334.7 L567.4,334.4 L568.7,334.1 L570.1,333.9 L571.5,333.6 L572.9,333.3 L574.3,333.0 L575.7,332.7 L577.1,332.5 L578.5,332.2 L579.9,331.9 L581.3,331.6 L582.7,331.3 L584.1,331.0 L585.5,330.7 L586.9,330.4 L588.3,330.1 L589.7,329.8 L591.1,329.5 L592.4,329.2 L593.8,328.9 L595.2,328.6 L596.6,328.3 L598.0,328.0 L599.4,327.6 L600.8,327.3 L602.2,327.0 L603.6,326.7 L604.9,326.4 L606.3,326.0 L607.7,325.7 L609.1,325.4 L610.5,325.1 L611.9,324.7 L613.3,324.4 L614.7,324.1 L616.0,323.7 L617.4,323.4 L618.8,323.1 L620.2,322.7 L621.6,322.4 L623.0,322.0 L624.3,321.7 L625.7,321.3 L627.1,321.0 L628.5,320.6 L629.9,320.3 L631.2,319.9 L632.6,319.6 L634.0,319.2 L635.4,318.8 L636.8,318.5 L638.1,318.1 L639.5,317.7 L640.9,317.4 L642.3,317.0 L643.6,316.6 L645.0,316.2 L646.4,315.9 L647.8,315.5 L649.1,315.1 L650.5,314.7 L651.9,314.3 L653.3,314.0 L654.6,313.6 L656.0,313.2 L657.4,312.8 L658.8,312.4 L660.1,312.0 L661.5,311.6 L662.9,311.2 L664.2,310.8 L665.6,310.4 L667.0,310.0 L668.3,309.6 L669.7,309.2 L671.1,308.8 L672.4,308.3 L673.8,307.9 L675.2,307.5 L676.5,307.1 L677.9,306.7 L679.3,306.3 L680.6,305.8 L682.0,305.4 L683.4,305.0 L684.7,304.6 L686.1,304.1 L687.5,303.7 L688.8,303.3 L690.2,302.8 L691.5,302.4 L692.9,301.9 L694.3,301.5 L695.6,301.0 L697.0,300.6 L698.3,300.2 L699.7,299.7 L701.0,299.3 L702.4,298.8" stroke="#550055"/>
<path d="M315.1,-1.2 V405.85" stroke="#0000ff" stroke-width="4.4" stroke-dasharray="5.6 4.2"/>
<path d="M365.9,-1.2 V405.85" stroke="#00aa00" stroke-width="4.4" stroke-dasharray="5.6 4.2"/>
<path d="M375.9,-1.2 V405.85" stroke="#550055" stroke-width="4.4" stroke-dasharray="5.6 4.2"/>
</g>
<path d="M47.15,0.4 V404.85 H702.35 V0.4" fill="none" stroke="#8a8a8a" stroke-width="1.2"/>
<path d="M47.15,0.4 H702.35" fill="none" stroke="#6a6a6a" stroke-width="1.2"/>
<g stroke="#4c4c4c" stroke-width="1.0" fill="none">
<path d="M60.4,404.9 v-7.7 M60.4,0.4 v7.7"/>
<path d="M85.5,404.9 v-4.8 M85.5,0.4 v4.8"/>
<path d="M110.7,404.9 v-4.8 M110.7,0.4 v4.8"/>
<path d="M135.8,404.9 v-4.8 M135.8,0.4 v4.8"/>
<path d="M161.0,404.9 v-4.8 M161.0,0.4 v4.8"/>
<path d="M186.1,404.9 v-7.7 M186.1,0.4 v7.7"/>
<path d="M211.3,404.9 v-4.8 M211.3,0.4 v4.8"/>
<path d="M236.4,404.9 v-4.8 M236.4,0.4 v4.8"/>
<path d="M261.6,404.9 v-4.8 M261.6,0.4 v4.8"/>
<path d="M286.7,404.9 v-4.8 M286.7,0.4 v4.8"/>
<path d="M311.9,404.9 v-7.7 M311.9,0.4 v7.7"/>
<path d="M337.0,404.9 v-4.8 M337.0,0.4 v4.8"/>
<path d="M362.2,404.9 v-4.8 M362.2,0.4 v4.8"/>
<path d="M387.3,404.9 v-4.8 M387.3,0.4 v4.8"/>
<path d="M412.4,404.9 v-4.8 M412.4,0.4 v4.8"/>
<path d="M437.6,404.9 v-7.7 M437.6,0.4 v7.7"/>
<path d="M462.7,404.9 v-4.8 M462.7,0.4 v4.8"/>
<path d="M487.9,404.9 v-4.8 M487.9,0.4 v4.8"/>
<path d="M513.0,404.9 v-4.8 M513.0,0.4 v4.8"/>
<path d="M538.2,404.9 v-4.8 M538.2,0.4 v4.8"/>
<path d="M563.3,404.9 v-7.7 M563.3,0.4 v7.7"/>
<path d="M588.5,404.9 v-4.8 M588.5,0.4 v4.8"/>
<path d="M613.6,404.9 v-4.8 M613.6,0.4 v4.8"/>
<path d="M638.8,404.9 v-4.8 M638.8,0.4 v4.8"/>
<path d="M663.9,404.9 v-4.8 M663.9,0.4 v4.8"/>
<path d="M689.0,404.9 v-7.7 M689.0,0.4 v7.7"/>
<path d="M47.1,396.9 h7.9 M702.4,396.9 h-7.9"/>
<path d="M47.1,378.1 h4.9 M702.4,378.1 h-4.9"/>
<path d="M47.1,359.3 h4.9 M702.4,359.3 h-4.9"/>
<path d="M47.1,340.4 h4.9 M702.4,340.4 h-4.9"/>
<path d="M47.1,321.6 h7.9 M702.4,321.6 h-7.9"/>
<path d="M47.1,302.8 h4.9 M702.4,302.8 h-4.9"/>
<path d="M47.1,284.0 h4.9 M702.4,284.0 h-4.9"/>
<path d="M47.1,265.2 h4.9 M702.4,265.2 h-4.9"/>
<path d="M47.1,246.4 h7.9 M702.4,246.4 h-7.9"/>
<path d="M47.1,227.5 h4.9 M702.4,227.5 h-4.9"/>
<path d="M47.1,208.7 h4.9 M702.4,208.7 h-4.9"/>
<path d="M47.1,189.9 h4.9 M702.4,189.9 h-4.9"/>
<path d="M47.1,171.1 h7.9 M702.4,171.1 h-7.9"/>
<path d="M47.1,152.3 h4.9 M702.4,152.3 h-4.9"/>
<path d="M47.1,133.5 h4.9 M702.4,133.5 h-4.9"/>
<path d="M47.1,114.6 h4.9 M702.4,114.6 h-4.9"/>
<path d="M47.1,95.8 h7.9 M702.4,95.8 h-7.9"/>
<path d="M47.1,77.0 h4.9 M702.4,77.0 h-4.9"/>
<path d="M47.1,58.2 h4.9 M702.4,58.2 h-4.9"/>
<path d="M47.1,39.4 h4.9 M702.4,39.4 h-4.9"/>
<path d="M47.1,20.5 h7.9 M702.4,20.5 h-7.9"/>
<path d="M47.1,1.7 h4.9 M702.4,1.7 h-4.9"/>
</g>
<g font-family="'Liberation Serif', serif" font-size="30.2px" fill="#000" style="filter:grayscale(1)">
<text transform="translate(40.9,404.5) scale(0.911,1)" text-anchor="end">0</text>
<text transform="translate(40.9,329.2) scale(0.911,1)" text-anchor="end">20</text>
<text transform="translate(40.9,254.0) scale(0.911,1)" text-anchor="end">40</text>
<text transform="translate(40.9,178.7) scale(0.911,1)" text-anchor="end">60</text>
<text transform="translate(40.9,103.4) scale(0.911,1)" text-anchor="end">80</text>
<text transform="translate(40.9,28.1) scale(0.911,1)" text-anchor="end">100</text>
<text transform="translate(59.7,434.3) scale(0.911,1)" text-anchor="middle">0.5</text>
<text transform="translate(185.4,434.3) scale(0.911,1)" text-anchor="middle">0.6</text>
<text transform="translate(311.2,434.3) scale(0.911,1)" text-anchor="middle">0.7</text>
<text transform="translate(436.9,434.3) scale(0.911,1)" text-anchor="middle">0.8</text>
<text transform="translate(562.6,434.3) scale(0.911,1)" text-anchor="middle">0.9</text>
<text transform="translate(688.3,434.3) scale(0.911,1)" text-anchor="middle">1.0</text>
</g>
</svg>
</body></html>
